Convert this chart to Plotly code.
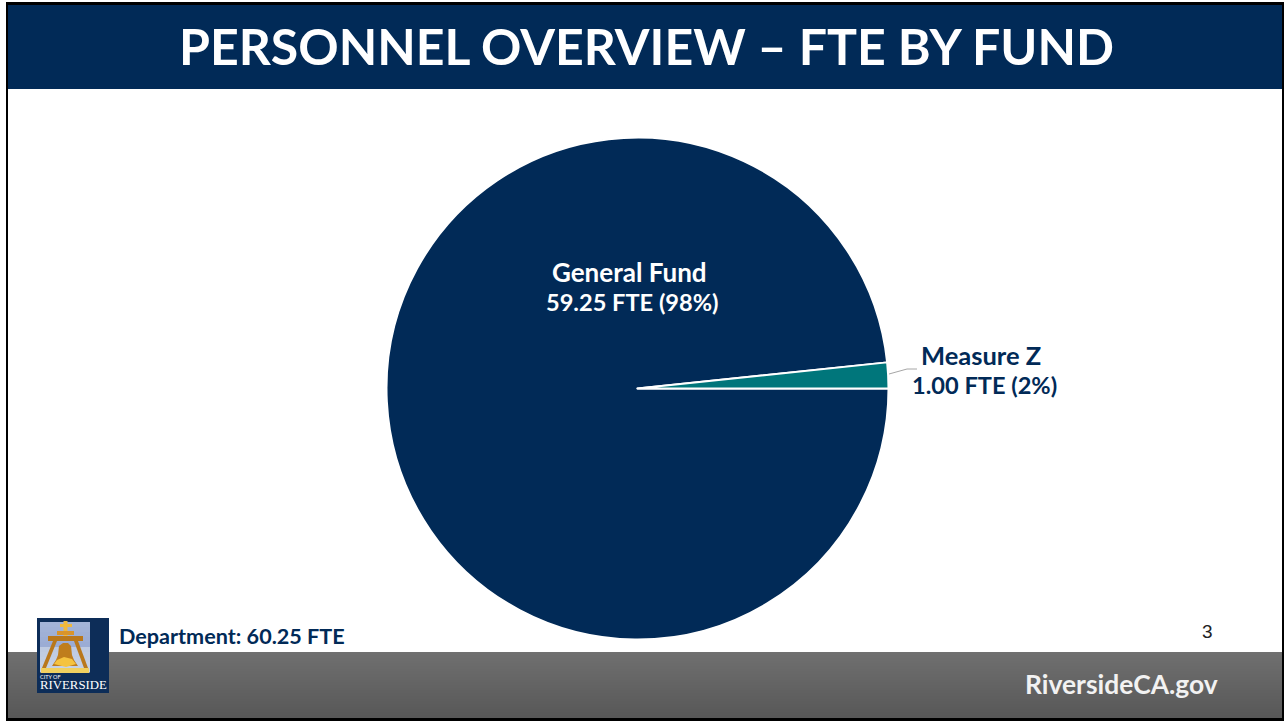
import plotly.graph_objects as go

W, H = 1284, 721
TITLE = "PERSONNEL OVERVIEW – FTE BY FUND"
funds = ["General Fund", "Measure Z"]
fte = [59.25, 1.00]
shares = ["98%", "2%"]
dept_total = 60.25
page_number = "3"
site = "RiversideCA.gov"
NAVY = "#012a57"
TEAL = "#00767b"

def X(p): return p / W
def Y(p): return 1 - p / H

shapes = []
def rect(x0, y0, x1, y1, color, layer="below"):
    shapes.append(dict(type="rect", xref="paper", yref="paper", x0=X(x0), x1=X(x1), y0=Y(y0), y1=Y(y1),
                       fillcolor=color, line_width=0, layer=layer))
def path(points, color, layer="above"):
    d = "M" + " L".join(f"{X(a):.5f},{Y(b):.5f}" for a, b in points) + " Z"
    shapes.append(dict(type="path", xref="paper", yref="paper", path=d, fillcolor=color, line_width=0, layer=layer))

# slide frame and bands
rect(0, 0, W, H, "#ffffff")
rect(8, 5, W, 89, NAVY)
band_top, band_bottom = 652, 718
steps = band_bottom - band_top
for i in range(steps):
    v = int(0x70 - (0x70 - 0x58) * i / max(steps - 1, 1))
    rect(8, band_top + i, W, band_top + i + 1.2, f"rgb({v},{v},{v})")
rect(6, 2, W, 5, "#000000")
rect(6, 2, 8, H, "#000000")
rect(6, 718, W, H, "#000000")
rect(1282, 2, W, H, "#000000")

# leader line
shapes.append(dict(type="path", xref="paper", yref="paper", layer="above",
                   path=f"M{X(889)},{Y(374)} L{X(907)},{Y(369)} L{X(917)},{Y(369)}",
                   line=dict(color="#a6a6a6", width=1)))

# logo
rect(37, 618, 109, 693, "#0d2d58", "above")
for i in range(10):
    c = (0xa3 - 2 * i, 0xb4 - 2 * i, 0xd8 - 1 * i) if i < 5 else (0xb4 + 2 * i, 0xc0 + 2 * i, 0xdc + i)
    rect(40, 622 + 5 * i, 90, 627.5 + 5 * i, f"rgb({c[0]},{c[1]},{c[2]})", "above")
G1, G2, G3 = "#d9942a", "#b9781c", "#f0b93c"
path([(53, 641), (57, 641), (46, 668), (42, 668)], G2)
path([(78, 641), (74, 641), (84, 668), (88, 668)], G2)
rect(63.5, 621, 67.5, 636, G3, "above")
rect(60, 624, 72, 627, G3, "above")
rect(57, 631, 74, 635, G1, "above")
rect(48, 636, 83, 641, G2, "above")
path([(63, 643), (68, 643), (71, 646), (72, 655), (74, 660), (78, 666), (52, 666), (56, 660), (58, 655), (59, 646)], "#bf7d1c")
path([(54, 664), (57, 660), (64, 657), (72, 659), (76, 664), (66, 667)], "#f5c33f")
rect(41, 668, 89, 673, "#f0d060", "above")

annotations = []
def note(x, y, text, size, color, anchor="center", family="Lato", weight=700):
    annotations.append(dict(x=X(x), y=Y(y), xref="paper", yref="paper", text=text, showarrow=False,
                            xanchor=anchor, yanchor="middle",
                            font=dict(family=family, size=size, color=color, weight=weight)))

note(646.5, 46, TITLE, 50, "#ffffff")
note(629, 272, funds[0], 26, "#ffffff")
note(632.5, 302, f"{fte[0]:.2f} FTE ({shares[0]})", 23.6, "#ffffff")
note(980.5, 355, funds[1], 25.5, NAVY)
note(984, 385, f"{fte[1]:.2f} FTE ({shares[1]})", 23.6, NAVY)
note(117, 636, f"Department: {dept_total:.2f} FTE", 21.6, NAVY, "left")
note(1207, 631, page_number, 19, "#222222", family="Liberation Sans", weight=400)
note(1121.5, 684, site, 26.4, "#f2f2f2")
note(37.5, 676.5, "CITY OF", 5.5, "#ffffff", "left", "Lato", 400)
note(73.5, 685, "RIVERSIDE", 12.8, "#ffffff", "center", "Liberation Serif", 400)

fig = go.Figure(go.Pie(
    labels=funds, values=fte, sort=False, direction="clockwise", rotation=90,
    textinfo="none", hoverinfo="label+value", showlegend=False,
    marker=dict(colors=[NAVY, TEAL], line=dict(color="#ffffff", width=2)),
    domain=dict(x=[X(386.5), X(888.5)], y=[Y(639.5), Y(137.5)]),
))
fig.update_layout(width=W, height=H, margin=dict(l=0, r=0, t=0, b=0),
                  paper_bgcolor="#ffffff", shapes=shapes, annotations=annotations)
fig.write_html("out.html", config=dict(displayModeBar=False),
               post_script="document.body.style.margin='0';document.body.style.overflow='hidden';")
